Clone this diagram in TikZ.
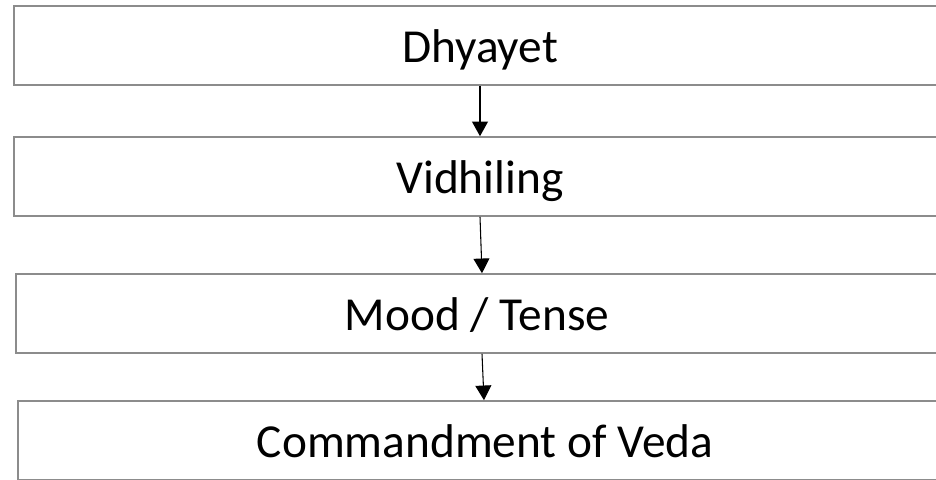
\documentclass[tikz,border=0pt]{standalone}
\usepackage{fontspec}
\setmainfont{Carlito}
\usetikzlibrary{arrows.meta}

\begin{document}
\begin{tikzpicture}[x=0.75pt, y=-0.75pt,
			stage/.style={draw=black!45, line width=1.2pt, minimum height=59.25pt, minimum width=1500pt, anchor=west},
			caption/.style={inner sep=0pt, text height=30pt, text depth=5.2pt, font=\fontsize{35.5}{40}\selectfont},
			flow/.style={-{Triangle[length=11pt, width=12pt]}, line width=0.8pt}
			]
			% Page frame; the boxes run past its right edge
			\clip (0,0) rectangle (936,479);
			
			\node[stage] (dhyayet) at (13,45.5) {};
			\node[stage] (vidhiling) at (13,176.5) {};
			\node[stage] (mood) at (15,313.5) {};
			\node[stage] (veda) at (17,440.5) {};
			
			\node[caption] (dhyayet-t) at (480,45.5) {Dhyayet};
			\node[caption] (vidhiling-t) at (480,176.5) {Vidhiling};
			\node[caption] (mood-t) at (477,313.5) {Mood / Tense};
			\node[caption] (veda-t) at (485,440.5) {Commandment of Veda};
			
			% Arrows between stages
			\draw[flow] (dhyayet.south -| dhyayet-t) -- (vidhiling.north -| dhyayet-t);
			\draw[flow] (vidhiling.south -| vidhiling-t) -- ([xshift=1.5pt]mood.north -| vidhiling-t);
			\draw[flow] ([xshift=1.5pt]mood.south -| vidhiling-t) -- ([xshift=3pt]veda.north -| vidhiling-t);
		\end{tikzpicture}
\end{document}
